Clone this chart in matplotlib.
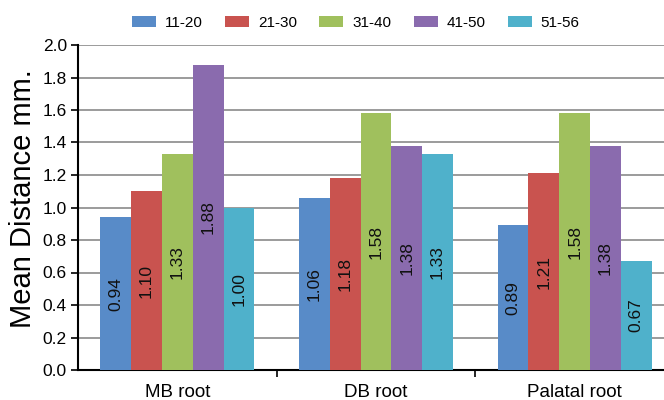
import numpy as np
import matplotlib
matplotlib.use("Agg")
import matplotlib.pyplot as plt

plt.rcParams['font.family'] = ['Liberation Sans', 'DejaVu Sans']

# data
roots = ['MB root', 'DB root', 'Palatal root']
age_groups = ['11-20', '21-30', '31-40', '41-50', '51-56']
mean_dist = {
    '11-20': [0.94, 1.06, 0.89],
    '21-30': [1.10, 1.18, 1.21],
    '31-40': [1.33, 1.58, 1.58],
    '41-50': [1.88, 1.38, 1.38],
    '51-56': [1.00, 1.33, 0.67],
}
colors = ['#588BC8', '#C9534F', '#A0C05D', '#8A6BAE', '#4FB1CB']

fig = plt.figure(figsize=(6.64, 4.0), dpi=100)
# the original is cropped on the right, so the axes run past the figure edge
ax = fig.add_axes([78 / 664, 30 / 400, 596 / 664, 325 / 400])

x = np.arange(len(roots))
w = 0.155
for k, grp in enumerate(age_groups):
    vals = mean_dist[grp]
    pos = x + (k - 2) * w
    bars = ax.bar(pos, vals, width=w, color=colors[k], label=grp, zorder=3)
    for b, v in zip(bars, vals):
        ax.text(b.get_x() + b.get_width() / 2, v / 2, f'{v:.2f}',
                rotation=90, ha='center', va='center', fontsize=12.5,
                color='#111111', zorder=4)

ax.set_xlim(-0.5, 2.5)
ax.set_ylim(0, 2.0)
ax.set_yticks(np.arange(0, 2.01, 0.2))
ax.set_yticklabels([f'{t:.1f}' for t in np.arange(0, 2.01, 0.2)], fontsize=12.5)
ax.yaxis.grid(True, color='#808080', linewidth=1.1, zorder=0)
ax.set_axisbelow(True)

ax.set_xticks([0.5, 1.5])
ax.set_xticklabels([])
ax.set_xticks(x, minor=True)
ax.set_xticklabels(roots, minor=True, fontsize=13.5)
ax.tick_params(axis='x', which='minor', length=0, pad=10)
ax.tick_params(axis='x', which='major', length=5, width=1.2, direction='out')
ax.tick_params(axis='y', length=5, width=1.2, direction='out', pad=3)

for s in ['top', 'right']:
    ax.spines[s].set_visible(False)
ax.spines['left'].set_linewidth(1.5)
ax.spines['bottom'].set_linewidth(1.5)

ax.set_ylabel('Mean Distance mm.', fontsize=21)
ax.yaxis.set_label_coords(-0.068, 0.526)

fig.legend(loc='center', bbox_to_anchor=(356 / 664, 1 - 23 / 400), ncol=5,
           frameon=False, fontsize=11, handlelength=1.57, handleheight=0.78,
           handletextpad=0.6, columnspacing=1.44)

fig.savefig('out.png', dpi=100)
